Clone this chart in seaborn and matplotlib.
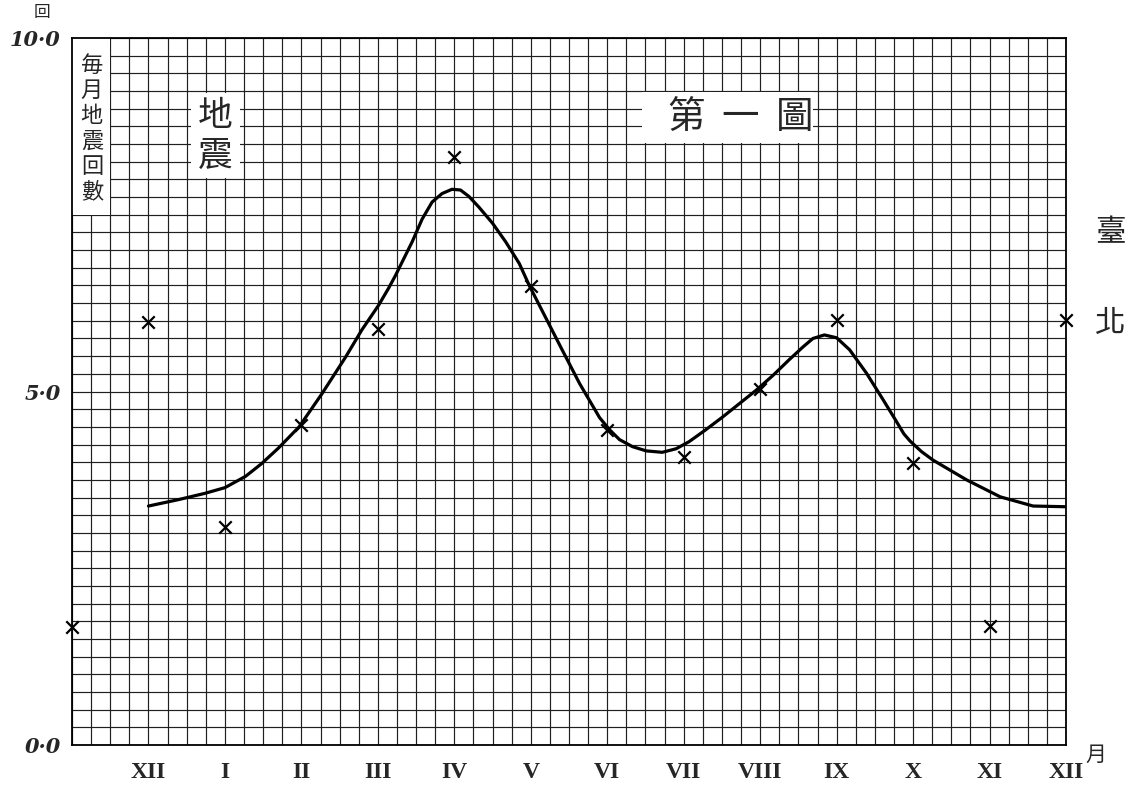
import matplotlib
matplotlib.use("Agg")
import matplotlib.pyplot as plt
from matplotlib.patches import Rectangle
from matplotlib.ticker import MultipleLocator, FixedLocator
import pandas as pd
import seaborn as sns

# Monthly earthquake counts (month index: -1 = Nov of previous year, 0 = Dec, 1 = Jan ... 12 = Dec)
month_pos = [-1, 0, 1, 2, 3, 4, 5, 6, 7, 8, 9, 10, 11, 12]
monthly_counts = [1.67, 5.98, 3.08, 4.53, 5.88, 8.32, 6.49, 4.46, 4.07, 5.04, 6.01, 3.99, 1.68, 6.01]

# Smoothed curve drawn through the monthly counts
curve_x = [0.00, 0.39, 0.74, 1.00, 1.27, 1.48, 1.70, 1.97, 2.27, 2.58, 2.79, 3.01, 3.14,
           3.23, 3.45, 3.58, 3.71, 3.84, 3.97, 4.08, 4.19, 4.32, 4.50, 4.67, 4.85, 4.98,
           5.15, 5.41, 5.64, 5.90, 6.03, 6.16, 6.33, 6.51, 6.72, 6.90, 7.07, 7.29, 7.51,
           7.73, 7.95, 8.17, 8.38, 8.56, 8.69, 8.84, 9.00, 9.17, 9.39, 9.61, 9.78, 9.88,
           9.96, 10.11, 10.26, 10.70, 11.14, 11.57, 12.00]
curve_y = [3.38, 3.47, 3.56, 3.64, 3.80, 3.98, 4.20, 4.50, 4.97, 5.49, 5.87, 6.22, 6.46,
           6.64, 7.12, 7.44, 7.68, 7.80, 7.86, 7.85, 7.76, 7.61, 7.38, 7.12, 6.81, 6.50,
           6.14, 5.59, 5.11, 4.63, 4.46, 4.32, 4.22, 4.16, 4.14, 4.19, 4.29, 4.46, 4.64,
           4.83, 5.02, 5.23, 5.45, 5.63, 5.75, 5.80, 5.76, 5.59, 5.26, 4.88, 4.58, 4.40,
           4.30, 4.15, 4.03, 3.75, 3.51, 3.38, 3.37]

month_ticks = list(range(13))
month_labels = ["XII", "I", "II", "III", "IV", "V", "VI", "VII", "VIII", "IX", "X", "XI", "XII"]
y_ticks = list(range(11))
y_labels = ["0·0", "", "", "", "", "5·0", "", "", "", "", "10·0"]

sns.set_style("white")
plt.rcParams["font.family"] = ["Noto Sans CJK TC", "DejaVu Sans"]
cjk = ["Noto Sans CJK TC", "DejaVu Sans"]

fig = plt.figure(figsize=(11.33, 7.85), dpi=100)
ax = fig.add_axes([72 / 1133, 1 - 745 / 785, (1066 - 72) / 1133, (745 - 38) / 785])

counts = pd.DataFrame({"month": month_pos, "count": monthly_counts})
curve = pd.DataFrame({"month": curve_x, "count": curve_y})

sns.lineplot(data=curve, x="month", y="count", color="black", linewidth=2.3,
             sort=False, ax=ax, zorder=4, solid_joinstyle="round", solid_capstyle="round")
sns.scatterplot(data=counts, x="month", y="count", marker="x", s=80, color="black",
                linewidth=1.6, ax=ax, zorder=5, clip_on=False)

ax.set_xlim(-1, 12)
ax.set_ylim(0, 10)

# Graph-paper grid: quarter month by quarter count
ax.xaxis.set_major_locator(FixedLocator(month_ticks))
ax.xaxis.set_minor_locator(MultipleLocator(0.25))
ax.yaxis.set_major_locator(FixedLocator(y_ticks))
ax.yaxis.set_minor_locator(MultipleLocator(0.25))
ax.set_axisbelow(True)
ax.grid(which="both", color="#202020", linewidth=0.85)

ax.set_xticklabels(month_labels, fontdict={"family": "Liberation Serif", "weight": "bold", "size": 17})
ax.set_yticklabels(y_labels, fontdict={"family": "DejaVu Serif", "style": "italic",
                                       "weight": "bold", "size": 15})
ax.tick_params(axis="x", which="major", direction="out", length=8, width=1.6, pad=4, color="black")
ax.tick_params(axis="y", which="major", direction="out", length=7, width=1.4, pad=1, color="black")
ax.tick_params(which="minor", length=0)
ax.set_xlabel("")
ax.set_ylabel("")

for side in ["left", "right", "top", "bottom"]:
    ax.spines[side].set_visible(True)
    ax.spines[side].set_color("black")
    ax.spines[side].set_linewidth(1.3)

# Axis caption box (vertical text)
ax.add_patch(Rectangle((-1, 7.5), 0.5, 2.5, facecolor="white", edgecolor="none", zorder=2))
ax.text(-0.74, 8.72, "\n".join("毎月地震回數"), family=cjk, fontsize=16, ha="center",
        va="center", linespacing=1.12, zorder=3)

# Subject box
ax.add_patch(Rectangle((0.55, 8.02), 0.65, 1.2, facecolor="white", edgecolor="none", zorder=2))
ax.text(0.875, 8.6, "地\n震", family=cjk, fontsize=25, ha="center", va="center",
        linespacing=1.2, zorder=3)

# Figure title box
ax.add_patch(Rectangle((6.45, 8.51), 2.24, 0.73, facecolor="white", edgecolor="none", zorder=2))
for xpos, ch in zip([7.03, 7.74, 8.45], "第一圖"):
    ax.text(xpos, 8.87, ch, family=cjk, fontsize=27, ha="center", va="center", zorder=3)

# Labels outside the plot
fig.text(1110 / 1133, 1 - 233 / 785, "臺", family=cjk, fontsize=22, ha="center", va="center")
fig.text(1110 / 1133, 1 - 323 / 785, "北", family=cjk, fontsize=22, ha="center", va="center")
fig.text(42 / 1133, 1 - 13 / 785, "回", family=cjk, fontsize=12, ha="center", va="center")
fig.text(1096 / 1133, 1 - 755 / 785, "月", family=cjk, fontsize=15, ha="center", va="center")

fig.savefig("out.png", dpi=100, facecolor="white")
